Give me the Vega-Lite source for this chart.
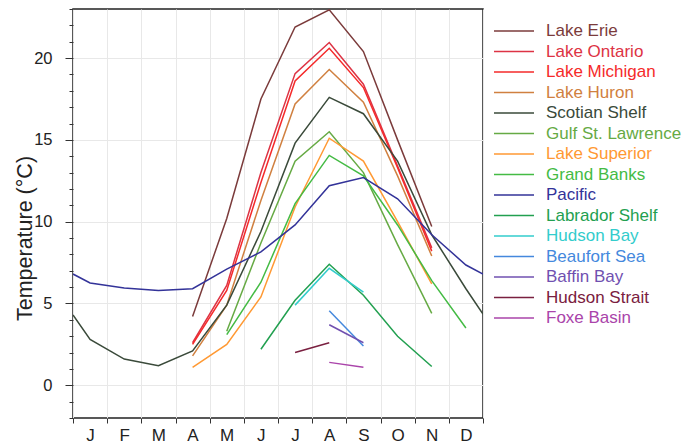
{
  "$schema": "https://vega.github.io/schema/vega-lite/v6.json",
  "width": 410,
  "height": 409,
  "autosize": "none",
  "padding": {"left": 73, "top": 9, "right": 213, "bottom": 26},
  "background": "white",
  "config": {"view": {"stroke": "#222222", "strokeWidth": 1.5}, "font": "Liberation Sans"},
  "data": {"values": [
    {"s": "Lake Erie", "m": 3.5, "t": 4.2}, {"s": "Lake Erie", "m": 4.5, "t": 10.2}, {"s": "Lake Erie", "m": 5.5, "t": 17.5}, {"s": "Lake Erie", "m": 6.5, "t": 21.9}, {"s": "Lake Erie", "m": 7.5, "t": 22.95}, {"s": "Lake Erie", "m": 8.5, "t": 20.4}, {"s": "Lake Erie", "m": 9.5, "t": 15.0}, {"s": "Lake Erie", "m": 10.5, "t": 9.7},
    {"s": "Lake Ontario", "m": 3.5, "t": 2.6}, {"s": "Lake Ontario", "m": 4.5, "t": 6.1}, {"s": "Lake Ontario", "m": 5.5, "t": 13.0}, {"s": "Lake Ontario", "m": 6.5, "t": 19.05}, {"s": "Lake Ontario", "m": 7.5, "t": 20.95}, {"s": "Lake Ontario", "m": 8.5, "t": 18.4}, {"s": "Lake Ontario", "m": 9.5, "t": 13.4}, {"s": "Lake Ontario", "m": 10.5, "t": 8.4},
    {"s": "Lake Michigan", "m": 3.5, "t": 2.5}, {"s": "Lake Michigan", "m": 4.5, "t": 5.8}, {"s": "Lake Michigan", "m": 5.5, "t": 12.4}, {"s": "Lake Michigan", "m": 6.5, "t": 18.6}, {"s": "Lake Michigan", "m": 7.5, "t": 20.6}, {"s": "Lake Michigan", "m": 8.5, "t": 18.2}, {"s": "Lake Michigan", "m": 9.5, "t": 13.3}, {"s": "Lake Michigan", "m": 10.5, "t": 8.2},
    {"s": "Lake Huron", "m": 3.5, "t": 1.8}, {"s": "Lake Huron", "m": 4.5, "t": 4.9}, {"s": "Lake Huron", "m": 5.5, "t": 11.3}, {"s": "Lake Huron", "m": 6.5, "t": 17.2}, {"s": "Lake Huron", "m": 7.5, "t": 19.3}, {"s": "Lake Huron", "m": 8.5, "t": 17.3}, {"s": "Lake Huron", "m": 9.5, "t": 12.8}, {"s": "Lake Huron", "m": 10.5, "t": 7.9},
    {"s": "Scotian Shelf", "m": 0, "t": 4.3}, {"s": "Scotian Shelf", "m": 0.5, "t": 2.8}, {"s": "Scotian Shelf", "m": 1.5, "t": 1.6}, {"s": "Scotian Shelf", "m": 2.5, "t": 1.2}, {"s": "Scotian Shelf", "m": 3.5, "t": 2.1}, {"s": "Scotian Shelf", "m": 4.5, "t": 4.9}, {"s": "Scotian Shelf", "m": 5.5, "t": 9.4}, {"s": "Scotian Shelf", "m": 6.5, "t": 14.8}, {"s": "Scotian Shelf", "m": 7.5, "t": 17.6}, {"s": "Scotian Shelf", "m": 8.5, "t": 16.6}, {"s": "Scotian Shelf", "m": 9.5, "t": 13.7}, {"s": "Scotian Shelf", "m": 10.5, "t": 9.2}, {"s": "Scotian Shelf", "m": 11.5, "t": 5.9}, {"s": "Scotian Shelf", "m": 12, "t": 4.35},
    {"s": "Gulf St. Lawrence", "m": 4.5, "t": 3.3}, {"s": "Gulf St. Lawrence", "m": 5.5, "t": 8.7}, {"s": "Gulf St. Lawrence", "m": 6.5, "t": 13.7}, {"s": "Gulf St. Lawrence", "m": 7.5, "t": 15.5}, {"s": "Gulf St. Lawrence", "m": 8.5, "t": 13.0}, {"s": "Gulf St. Lawrence", "m": 9.5, "t": 8.6}, {"s": "Gulf St. Lawrence", "m": 10.5, "t": 4.4},
    {"s": "Lake Superior", "m": 3.5, "t": 1.1}, {"s": "Lake Superior", "m": 4.5, "t": 2.5}, {"s": "Lake Superior", "m": 5.5, "t": 5.4}, {"s": "Lake Superior", "m": 6.5, "t": 10.9}, {"s": "Lake Superior", "m": 7.5, "t": 15.1}, {"s": "Lake Superior", "m": 8.5, "t": 13.7}, {"s": "Lake Superior", "m": 9.5, "t": 10.0}, {"s": "Lake Superior", "m": 10.5, "t": 6.2},
    {"s": "Grand Banks", "m": 4.5, "t": 3.1}, {"s": "Grand Banks", "m": 5.5, "t": 6.3}, {"s": "Grand Banks", "m": 6.5, "t": 11.1}, {"s": "Grand Banks", "m": 7.5, "t": 14.05}, {"s": "Grand Banks", "m": 8.5, "t": 12.8}, {"s": "Grand Banks", "m": 9.5, "t": 9.8}, {"s": "Grand Banks", "m": 10.5, "t": 6.4}, {"s": "Grand Banks", "m": 11.5, "t": 3.5},
    {"s": "Pacific", "m": 0, "t": 6.8}, {"s": "Pacific", "m": 0.5, "t": 6.25}, {"s": "Pacific", "m": 1.5, "t": 5.95}, {"s": "Pacific", "m": 2.5, "t": 5.8}, {"s": "Pacific", "m": 3.5, "t": 5.9}, {"s": "Pacific", "m": 4.5, "t": 7.1}, {"s": "Pacific", "m": 5.5, "t": 8.15}, {"s": "Pacific", "m": 6.5, "t": 9.8}, {"s": "Pacific", "m": 7.5, "t": 12.2}, {"s": "Pacific", "m": 8.5, "t": 12.7}, {"s": "Pacific", "m": 9.5, "t": 11.4}, {"s": "Pacific", "m": 10.5, "t": 9.2}, {"s": "Pacific", "m": 11.5, "t": 7.35}, {"s": "Pacific", "m": 12, "t": 6.8},
    {"s": "Labrador Shelf", "m": 5.5, "t": 2.2}, {"s": "Labrador Shelf", "m": 6.5, "t": 5.2}, {"s": "Labrador Shelf", "m": 7.5, "t": 7.4}, {"s": "Labrador Shelf", "m": 8.5, "t": 5.5}, {"s": "Labrador Shelf", "m": 9.5, "t": 3.0}, {"s": "Labrador Shelf", "m": 10.5, "t": 1.15},
    {"s": "Hudson Bay", "m": 6.5, "t": 4.9}, {"s": "Hudson Bay", "m": 7.5, "t": 7.15}, {"s": "Hudson Bay", "m": 8.5, "t": 5.7},
    {"s": "Beaufort Sea", "m": 7.5, "t": 4.55}, {"s": "Beaufort Sea", "m": 8.5, "t": 2.4},
    {"s": "Baffin Bay", "m": 7.5, "t": 3.7}, {"s": "Baffin Bay", "m": 8.5, "t": 2.6},
    {"s": "Hudson Strait", "m": 6.5, "t": 2.0}, {"s": "Hudson Strait", "m": 7.5, "t": 2.6},
    {"s": "Foxe Basin", "m": 7.5, "t": 1.4}, {"s": "Foxe Basin", "m": 8.5, "t": 1.1}
  ]},
  "mark": {"type": "line", "strokeWidth": 1.5, "clip": true},
  "encoding": {
    "x": {
      "field": "m", "type": "quantitative",
      "scale": {"domain": [0, 12], "nice": false, "zero": false},
      "axis": {
        "title": null,
        "values": [0, 1, 2, 3, 4, 5, 6, 7, 8, 9, 10, 11, 12],
        "labelExpr": "datum.value < 12 ? ['J','F','M','A','M','J','J','A','S','O','N','D'][datum.value] : ''",
        "labelOffset": 17,
        "labelFlush": false,
        "labelOverlap": false,
        "labelBound": false,
        "tickSize": 5,
        "tickColor": "#333333",
        "labelPadding": 4,
        "labelFontSize": 17,
        "labelColor": "#222222",
        "grid": true,
        "gridColor": "#e8e8e8",
        "domain": false
      }
    },
    "y": {
      "field": "t", "type": "quantitative",
      "scale": {"domain": [-2, 23], "nice": false, "zero": false},
      "axis": {
        "title": "Temperature (°C)",
        "values": [-2, -1, 0, 1, 2, 3, 4, 5, 6, 7, 8, 9, 10, 11, 12, 13, 14, 15, 16, 17, 18, 19, 20, 21, 22, 23],
        "labelExpr": "datum.value % 5 === 0 ? datum.label : ''",
        "labelOverlap": false,
        "labelBound": false,
        "labelFlush": false,
        "tickSize": {"condition": {"test": "datum.value % 5 === 0", "value": 8}, "value": 4},
        "tickColor": "#333333",
        "gridOpacity": {"condition": {"test": "datum.value % 5 === 0", "value": 1}, "value": 0},
        "gridColor": "#e8e8e8",
        "labelFontSize": 16.5,
        "labelColor": "#222222",
        "labelPadding": 13,
        "titleFontSize": 21.5,
        "titleFontWeight": "normal",
        "titleColor": "#222222",
        "titleX": -48,
        "titleY": 229,
        "titleAlign": "center",
        "titleBaseline": "middle",
        "domain": false
      }
    },
    "color": {
      "field": "s", "type": "nominal",
      "scale": {
        "domain": ["Lake Erie", "Lake Ontario", "Lake Michigan", "Lake Huron", "Scotian Shelf", "Gulf St. Lawrence", "Lake Superior", "Grand Banks", "Pacific", "Labrador Shelf", "Hudson Bay", "Beaufort Sea", "Baffin Bay", "Hudson Strait", "Foxe Basin"],
        "range": ["#7b3b3b", "#dd3344", "#f52a2a", "#d08040", "#3a4a3a", "#66aa44", "#ff9933", "#44bb44", "#333399", "#22a050", "#33cccc", "#4488dd", "#7050b0", "#7a2040", "#aa44aa"]
      },
      "legend": {
        "orient": "none",
        "legendX": 420,
        "legendY": 12,
        "title": null,
        "symbolType": "stroke",
        "symbolSize": 1600,
        "symbolStrokeWidth": 1.5,
        "labelFontSize": 17,
        "labelOffset": 11,
        "labelLimit": 300,
        "rowPadding": 0.5,
        "clipHeight": 20,
        "encode": {"labels": {"update": {"fill": {"scale": "color", "field": "value"}}}}
      }
    }
  }
}
